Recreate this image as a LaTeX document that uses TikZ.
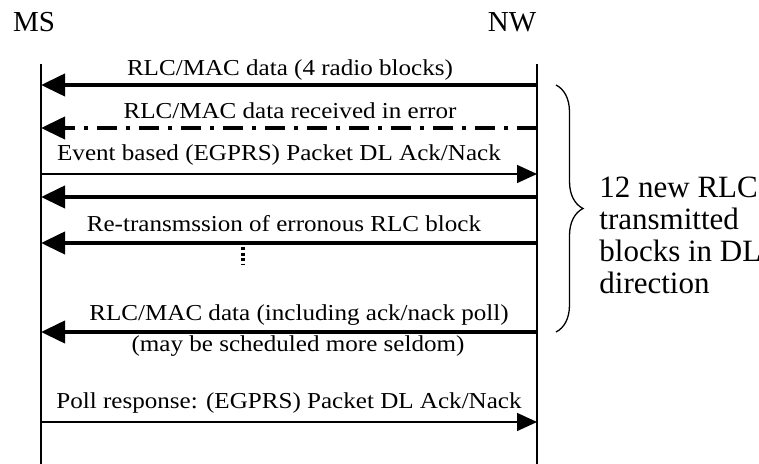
\documentclass[tikz,border=0pt]{standalone}
\usepackage{fontspec}
\setmainfont{Liberation Serif}
\newfontfamily\msgfont{Liberation Serif}[FakeStretch=1.1]
\usetikzlibrary{arrows.meta,decorations.pathreplacing}

\begin{document}
\begin{tikzpicture}[x=0.5pt,y=-0.5pt,
  lifeline/.style={line width=0.7pt},
  bigmsg/.style={line width=2pt,-{Triangle[length=12pt,width=11pt]}},
  smallmsg/.style={line width=0.75pt,-{Triangle[length=10pt,width=9pt]}},
  msglabel/.style={anchor=base,inner sep=0pt,font=\msgfont\fontsize{11.4}{13}\selectfont},
  entity/.style={anchor=base,inner sep=0pt,font=\fontsize{14.5}{16}\selectfont}]
\useasboundingbox (0,0) rectangle (759,464);
% entities
\node[entity] (ms) at (34,32) {MS};
\node[entity] (nw) at (512,32) {NW};
\coordinate (msTop) at (41,64);
\coordinate (msBot) at (41,464);
\coordinate (nwTop) at (537,64);
\coordinate (nwBot) at (537,464);
\draw[lifeline] (msTop)--(msBot);
\draw[lifeline] (nwTop)--(nwBot);
% message end points
\coordinate (ms1) at (41,85);   \coordinate (nw1) at (537,85);
\coordinate (ms2) at (41,128);  \coordinate (nw2) at (537,128);
\coordinate (ms3) at (41,174);  \coordinate (nw3) at (537,174);
\coordinate (ms4) at (41,197);  \coordinate (nw4) at (537,197);
\coordinate (ms5) at (41,243);  \coordinate (nw5) at (537,243);
\coordinate (ms6) at (41,332);  \coordinate (nw6) at (537,332);
\coordinate (ms7) at (41,422);  \coordinate (nw7) at (537,422);
% messages
\draw[bigmsg] (nw1)--(ms1);
\draw[bigmsg,dash pattern=on 10pt off 4.5pt on 2pt off 4.5pt] (nw2)--(ms2);
\draw[smallmsg] (ms3)--(nw3);
\draw[bigmsg] (nw4)--(ms4);
\draw[bigmsg] (nw5)--(ms5);
\draw[bigmsg] (nw6)--(ms6);
\draw[smallmsg] (ms7)--(nw7);
\node[msglabel] (l1) at (290,76) {RLC/MAC data (4 radio blocks)};
\node[msglabel] (l2) at (290,119) {RLC/MAC data received in error};
\node[msglabel] (l3) at (279,161) {Event based (EGPRS) Packet DL Ack/Nack};
\node[msglabel] (l5) at (284,232) {Re-transmssion of erronous RLC block};
\node[msglabel] (l6a) at (299,321) {RLC/MAC data (including ack/nack poll)};
\node[msglabel] (l6b) at (298,351) {(may be scheduled more seldom)};
\node[msglabel] (l7) at (289,408) {Poll response: (EGPRS) Packet DL Ack/Nack};
% continuation mark
\coordinate (dotsTop) at (243,247);
\coordinate (dotsBot) at (243,265);
\draw[line width=1.6pt,dash pattern=on 1.6pt off 1.2pt] (dotsTop)--(dotsBot);
% brace over the new blocks
\coordinate (brTop) at (556,85);
\coordinate (brBot) at (556,332);
\draw[line width=0.65pt,decorate,decoration={brace,amplitude=13.5pt}] (brTop)--(brBot);
\node[anchor=north west,inner sep=0pt,align=left,font=\fontsize{15.5}{16}\selectfont] (note) at (599,177)
  {12 new RLC\\transmitted\\blocks in DL\\direction};
\end{tikzpicture}
\end{document}
